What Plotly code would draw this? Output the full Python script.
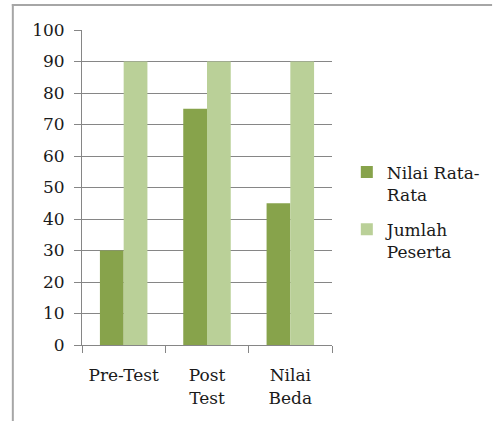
import plotly.graph_objects as go

categories = ["Pre-Test", "Post<br>Test", "Nilai<br>Beda"]
nilai_rata = [30, 75, 45]
jumlah_peserta = [90, 90, 90]
series_names = ["Nilai Rata-<br>Rata", "Jumlah<br>Peserta"]
y_ticks = list(range(0, 101, 10))

FONT = "DejaVu Serif"
FS = 17
W, H = 497, 421
L, R, T, B = 82, 162, 30, 76
pw, ph = W - L - R, H - T - B

fig = go.Figure()
fig.add_trace(go.Bar(x=categories, y=nilai_rata, name=series_names[0], legendgroup="a",
                     marker=dict(color="#87a34b", line=dict(width=0))))
fig.add_trace(go.Bar(x=categories, y=jumlah_peserta, name=series_names[1], legendgroup="b",
                     marker=dict(color="#bad098", line=dict(width=0))))

def px_x(x):
    return (x - L) / pw

def px_y(y):
    return (H - B - y) / ph

fig.update_layout(
    width=W, height=H,
    margin=dict(l=L, r=R, t=T, b=B),
    paper_bgcolor="white", plot_bgcolor="white",
    barmode="group", bargap=0.43, bargroupgap=0,
    font=dict(family=FONT, size=FS, color="#1a1a1a"),
    showlegend=True,
    legend=dict(x=px_x(350), y=px_y(212), xanchor="left", yanchor="middle",
                font=dict(family=FONT, size=FS, color="#1a1a1a"),
                tracegroupgap=10, itemwidth=30, valign="top",
                bgcolor="rgba(0,0,0,0)"),
    xaxis=dict(showgrid=False, showline=True, linecolor="#868686", linewidth=1,
               ticks="outside", tickson="boundaries", ticklen=7, tickcolor="#868686",
               ticklabelstandoff=15,
               tickfont=dict(family=FONT, size=FS, color="#1a1a1a"), zeroline=False),
    yaxis=dict(range=[0, 100], tickvals=y_ticks, showgrid=True, gridcolor="#868686",
               gridwidth=1, showline=True, linecolor="#868686", linewidth=1,
               ticks="outside", ticklen=7, tickcolor="#868686", zeroline=False,
               ticklabelstandoff=6,
               tickfont=dict(family=FONT, size=FS, color="#1a1a1a")),
    shapes=[
        dict(type="line", xref="paper", yref="paper", x0=px_x(11), x1=px_x(497),
             y0=px_y(5), y1=px_y(5), line=dict(color="#a6a6a6", width=2)),
        dict(type="line", xref="paper", yref="paper", x0=px_x(12), x1=px_x(12),
             y0=px_y(4), y1=px_y(421), line=dict(color="#a6a6a6", width=2)),
    ],
)

fig.write_html("out.html", config={"displayModeBar": False},
               post_script="document.body.style.margin='0px';")
